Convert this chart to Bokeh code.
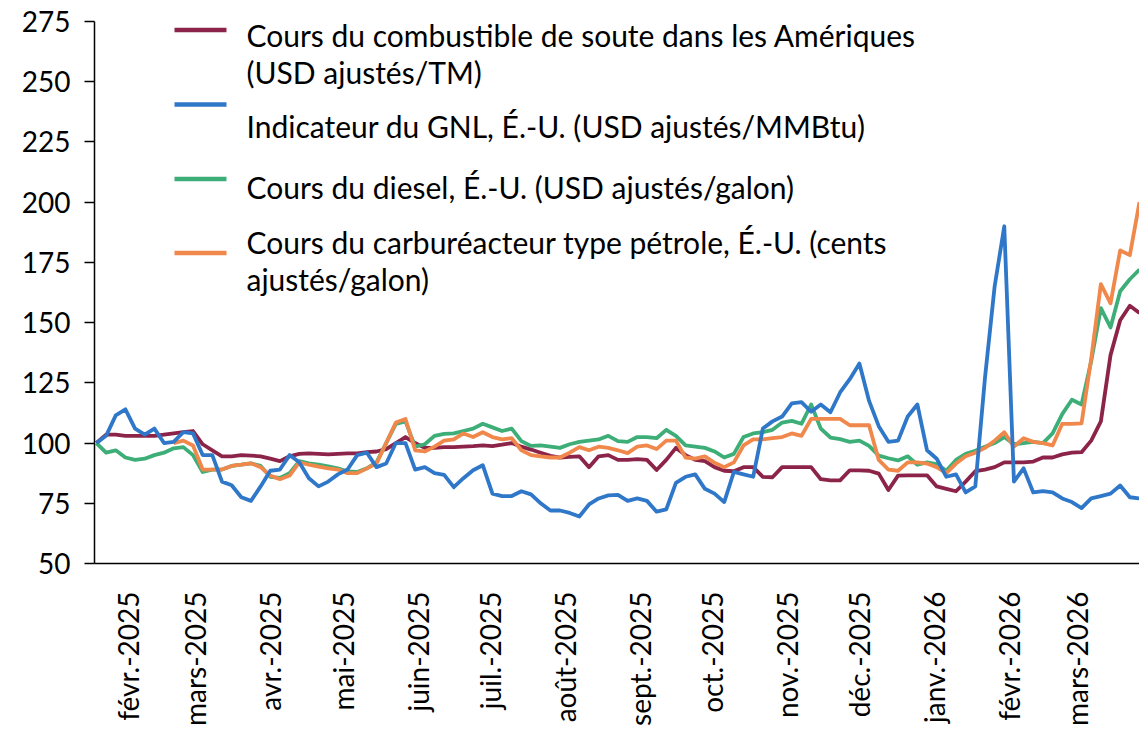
import math
import numpy as np
import pandas as pd
from bokeh.plotting import figure
from bokeh.models import Range1d, FixedTicker
from bokeh.embed import file_html
from bokeh.resources import INLINE
from bokeh.core.properties import value

# ---------------- data (index = 100, 4-day steps) ----------------
start = pd.Timestamp("2025-01-19")
n_obs = 109
dates = pd.date_range(start, periods=n_obs, freq="4D")

bunker = [100, 103.5, 103.5, 103, 103, 103, 103, 103.5, 104, 104.5,
          105, 99.5, 97, 94.5, 94.5, 95, 94.8, 94.5, 93.5, 92.5,
          94.5, 95.5, 95.7, 95.5, 95.3, 95.5, 95.7, 95.7, 96.2, 96.5,
          97.5, 100, 102.5, 100, 98, 98, 98.3, 98.3, 98.5, 98.7,
          99, 98.7, 99.3, 100, 98.5, 97.3, 96, 94.7, 94, 94.3,
          94.5, 90, 94.5, 95, 93, 93, 93.3, 93, 88.8, 93,
          98, 95, 93, 92.5, 90, 88.5, 88.3, 90, 90, 86,
          85.8, 90, 90, 90, 90, 85, 84.5, 84.5, 88.7, 88.7,
          88.5, 87.3, 80.5, 86.5, 86.6, 86.6, 86.6, 82, 81, 80,
          84, 88.3, 89, 90, 92, 92, 92, 92.3, 94, 94,
          95.3, 96, 96.2, 101, 109, 136.5, 151, 157, 154]

lng = [100, 103, 111.5, 114, 106, 103.5, 106, 100, 100.5, 104.5,
       104, 95, 95, 84, 82.5, 77.5, 76, 82, 88.5, 89,
       95, 92, 85.4, 82, 84, 87, 89, 95, 96, 90,
       91.5, 100, 100, 89, 90, 87.5, 86.8, 81.7, 85.4, 88.7,
       90.8, 79, 78, 78, 80, 78.7, 75, 72, 72, 71,
       69.5, 74.5, 77, 78.3, 78.5, 76, 77, 76, 71.5, 72.5,
       83.5, 86, 87, 81, 79, 75.5, 88, 87, 86, 106,
       109, 111, 116.5, 117, 113, 116, 112.8, 121, 126.5, 133,
       117.5, 107, 100.5, 101, 111, 116, 97, 93.5, 86, 87,
       79.5, 82, 127, 165, 190, 84, 89.5, 79.5, 80, 79.5,
       77, 75.5, 73, 77, 78, 79, 82.4, 77.5, 77]

diesel = [100, 96, 97, 94, 93, 93.5, 95, 96, 97.8, 98.3,
          95, 88, 89, 89, 90.5, 91, 91.6, 90.5, 86, 85.5,
          87.5, 92.5, 91.6, 91, 90.3, 89.5, 88.2, 88, 89.5, 92,
          100, 108, 109, 98.5, 99.5, 103, 103.8, 104, 105, 106,
          108, 106.5, 105, 106, 100.8, 98.8, 99, 98.5, 98, 99.5,
          100.5, 101, 101.5, 103, 100.8, 100.5, 102.5, 102.5, 102, 105.5,
          103, 99, 98.5, 98, 96.5, 94, 95.5, 102.5, 104, 104.5,
          105.5, 108.5, 109.2, 108, 116, 106, 102.3, 101.6, 100.5, 101,
          98.8, 94.8, 93.7, 92.8, 94.5, 91, 92, 91.3, 88.5, 93,
          95.5, 96.8, 98.5, 100, 102.5, 99.5, 100, 100.5, 100, 104,
          112, 118, 116, 134, 156, 148, 163, 168, 172]

nan = float("nan")
jet = [nan, nan, nan, nan, nan, nan, nan, nan, 100, 101,
       99, 89, 89, 89, 90.5, 91, 91.6, 90, 86.5, 85,
       86.5, 92, 91, 90.2, 89.5, 89, 87.5, 87.5, 89.5, 91.5,
       100, 108.5, 110, 97, 96.5, 98.5, 101, 101.5, 104, 102.5,
       104.5, 102.5, 101.5, 102, 97, 95, 94.5, 94, 94, 96,
       98.3, 97, 98.5, 98, 97, 95.8, 98.5, 99, 97.5, 101,
       101, 94, 93.5, 94.5, 91.8, 90, 92, 99, 101.5, 101.5,
       102, 102.5, 104, 103, 110, 110, 110, 110, 107.4, 107.4,
       107.4, 93, 89, 88.5, 92, 92, 91.5, 90, 87.5, 91.5,
       94.5, 96, 98, 101, 104.5, 98.5, 102, 100.5, 100, 99,
       108, 108, 108.2, 135, 166, 158, 180, 178, 200]

labels = [
    ["Cours du combustible de soute dans les Amériques", "(USD ajustés/TM)"],
    ["Indicateur du GNL, É.-U. (USD ajustés/MMBtu)"],
    ["Cours du diesel, É.-U. (USD ajustés/galon)"],
    ["Cours du carburéacteur type pétrole, É.-U. (cents", "ajustés/galon)"],
]
colors = ["#8C2449", "#2F77C8", "#3DAE77", "#F0874B"]

month_starts = pd.date_range("2025-02-01", "2026-03-01", freq="MS")
month_fr = ["janv.", "févr.", "mars", "avr.", "mai", "juin", "juil.", "août",
            "sept.", "oct.", "nov.", "déc."]
y_ticks = list(range(50, 276, 25))

# ---------------- figure ----------------
x = (dates - start).days.to_numpy().astype(float)
W, H = 1139, 738
FL, FT = 94, 21          # frame left / top inside the figure
FH = 542                 # frame height
x0, x1 = -0.8, 432.0
y0, y1 = 50, 275

p = figure(width=W, height=H, output_backend="svg", toolbar_location=None,
           x_range=Range1d(x0, x1), y_range=Range1d(y0, y1),
           min_border_left=FL, min_border_top=FT, min_border_right=0,
           min_border_bottom=H - FT - FH)
p.background_fill_color = "white"
p.border_fill_color = "white"
p.outline_line_color = None
p.xgrid.visible = False
p.ygrid.visible = False

FONT = "Lato"
FS = "28px"
FS_LEG = "30px"

# y axis
p.yaxis.ticker = FixedTicker(ticks=y_ticks)
p.yaxis.major_tick_out = 10
p.yaxis.major_tick_in = 0
p.yaxis.minor_tick_out = 0
p.yaxis.minor_tick_in = 0
p.yaxis.major_label_standoff = 14
p.yaxis.axis_line_color = "black"
p.yaxis.axis_line_width = 1.5
p.yaxis.major_tick_line_color = "black"
p.yaxis.major_tick_line_width = 1.5
p.yaxis.major_label_text_font = FONT
p.yaxis.major_label_text_font_size = FS
p.yaxis.major_label_text_color = "black"

# x axis
tick_days = [(d - start).days for d in month_starts]
p.xaxis.ticker = FixedTicker(ticks=tick_days)
p.xaxis.major_label_overrides = {
    td: f"{month_fr[d.month - 1]}-{d.year}" for td, d in zip(tick_days, month_starts)
}
p.xaxis.major_label_orientation = math.pi / 2
p.xaxis.major_tick_out = 0
p.xaxis.major_tick_in = 0
p.xaxis.minor_tick_out = 0
p.xaxis.minor_tick_in = 0
p.xaxis.major_label_standoff = 28
p.xaxis.axis_line_color = "black"
p.xaxis.axis_line_width = 1.5
p.xaxis.major_label_text_font = FONT
p.xaxis.major_label_text_font_size = FS
p.xaxis.major_label_text_color = "black"

# series
series = [bunker, lng, diesel, jet]
order = [0, 2, 3, 1]
for i in order:
    p.line(x, np.array(series[i], dtype=float), line_color=colors[i],
           line_width=3.8, line_join="round")

# ---------------- legend (drawn by hand, pixel positions in the picture) ----------------
fw = W - FL


def px_x(px):  # picture x -> data x
    return x0 + (px - FL) * (x1 - x0) / fw


def px_y(py):  # picture y -> data y
    return y1 - (py - FT) * (y1 - y0) / FH


line_y = [29.5, 104, 178.5, 252.5]
base_y = [[34.5, 71.5], [125.5], [186], [241, 278]]
for i in range(4):
    p.line([px_x(174), px_x(226)], [px_y(line_y[i])] * 2,
           line_color=colors[i], line_width=4.5)
    for txt, by in zip(labels[i], base_y[i]):
        p.text(x=[px_x(246)], y=[px_y(by)], text=[txt],
               text_font=value(FONT), text_font_size=FS_LEG,
               text_baseline="alphabetic", text_align="left",
               text_color="black")

open("out.html", "w").write(file_html(p, INLINE))
